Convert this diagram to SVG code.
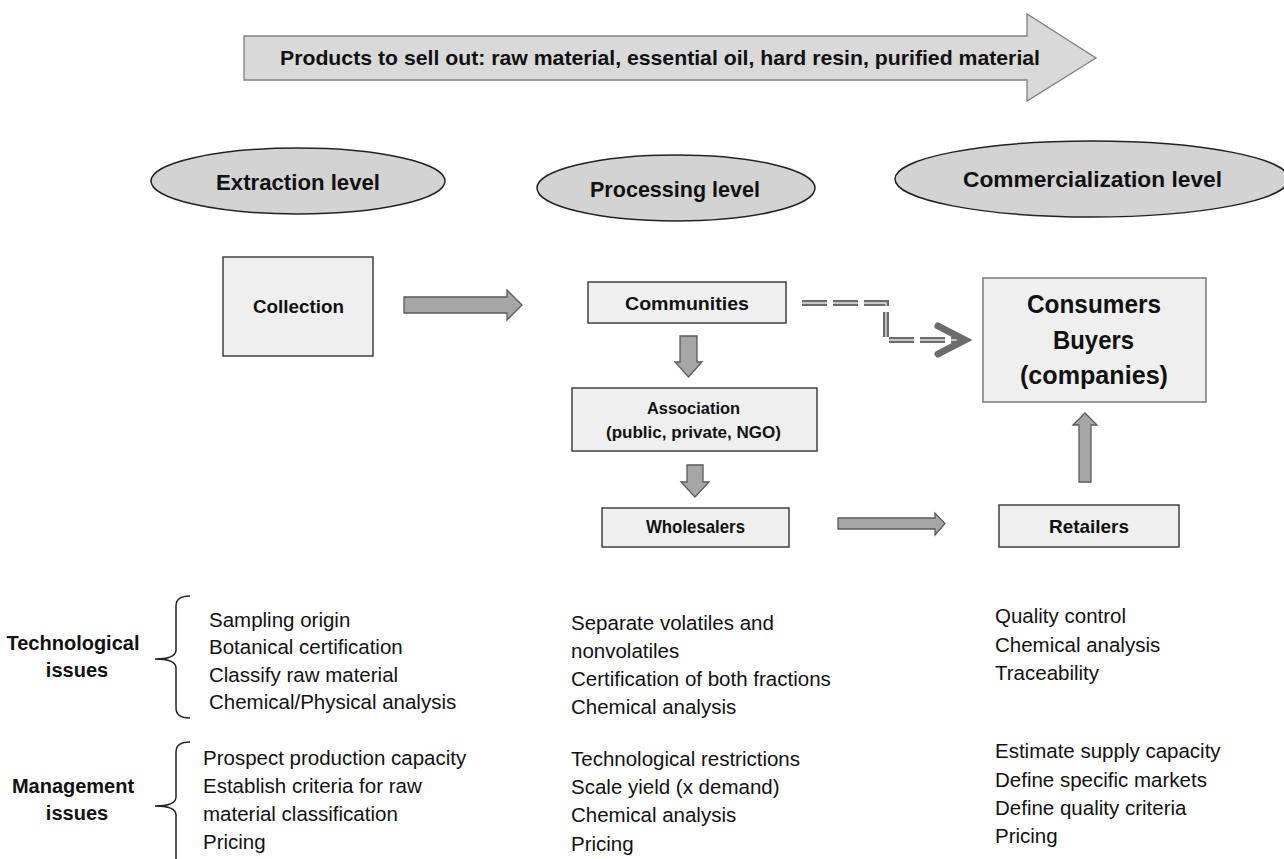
<svg xmlns="http://www.w3.org/2000/svg" width="1284" height="859" viewBox="0 0 1284 859">
<style>
  text { font-family: "Liberation Sans", Arial, sans-serif; fill: #111; }
  .b { font-weight: bold; }
  .c { text-anchor: middle; }
  .item { font-size: 20.5px; }
  .side { font-size: 20px; font-weight: bold; text-anchor: middle; }
  .box { fill: #efefef; stroke: #404040; stroke-width: 1.5; }
  .ell { fill: #d3d3d3; stroke: #222; stroke-width: 1.5; }
  .arr { fill: #a6a6a6; stroke: #5a5a5a; stroke-width: 1.3; stroke-linejoin: miter; }
  .brace { fill: none; stroke: #222; stroke-width: 1.5; }
</style>
<rect width="1284" height="859" fill="#fff"/>

<g id="products-banner">
  <polygon points="244,36 1027,36 1027,14 1096,58 1027,101 1027,80 244,80" fill="#d9d9d9" stroke="#808080" stroke-width="1.3"/>
  <text class="b" x="280" y="65" font-size="20.5" textLength="760" lengthAdjust="spacingAndGlyphs">Products to sell out: raw material, essential oil, hard resin, purified material</text>
</g>

<g id="extraction-level">
  <ellipse class="ell" cx="298" cy="181" rx="147" ry="33"/>
  <text class="b" x="216" y="190" font-size="22" textLength="164" lengthAdjust="spacingAndGlyphs">Extraction level</text>
</g>
<g id="processing-level">
  <ellipse class="ell" cx="676" cy="188" rx="139" ry="33"/>
  <text class="b" x="590" y="197" font-size="22" textLength="170" lengthAdjust="spacingAndGlyphs">Processing level</text>
</g>
<g id="commercialization-level">
  <ellipse class="ell" cx="1092" cy="179" rx="197" ry="38"/>
  <text class="b" x="963" y="187" font-size="22" textLength="259" lengthAdjust="spacingAndGlyphs">Commercialization level</text>
</g>

<g id="collection">
  <rect class="box" x="223" y="257" width="150" height="99"/>
  <text class="b" x="253" y="313" font-size="19" textLength="91" lengthAdjust="spacingAndGlyphs">Collection</text>
</g>
<g id="communities">
  <rect class="box" x="588" y="282" width="198" height="41"/>
  <text class="b" x="625" y="310" font-size="19" textLength="124" lengthAdjust="spacingAndGlyphs">Communities</text>
</g>
<g id="association">
  <rect class="box" x="572" y="388" width="245" height="63"/>
  <text class="b" x="647" y="414" font-size="16.5" textLength="93" lengthAdjust="spacingAndGlyphs">Association</text>
  <text class="b" x="606" y="438" font-size="16.5" textLength="175" lengthAdjust="spacingAndGlyphs">(public, private, NGO)</text>
</g>
<g id="wholesalers">
  <rect class="box" x="602" y="508" width="187" height="39"/>
  <text class="b" x="646" y="533" font-size="17.5" textLength="99" lengthAdjust="spacingAndGlyphs">Wholesalers</text>
</g>
<g id="retailers">
  <rect class="box" x="999" y="505" width="180" height="42"/>
  <text class="b" x="1049" y="533" font-size="18.5" textLength="80" lengthAdjust="spacingAndGlyphs">Retailers</text>
</g>
<g id="consumers">
  <rect x="983" y="278" width="223" height="124" fill="#efefef" stroke="#7a7a7a" stroke-width="1.5"/>
  <text class="b" x="1027" y="313" font-size="25" textLength="134" lengthAdjust="spacingAndGlyphs">Consumers</text>
  <text class="b" x="1053" y="349" font-size="25" textLength="81" lengthAdjust="spacingAndGlyphs">Buyers</text>
  <text class="b" x="1020" y="384" font-size="25" textLength="148" lengthAdjust="spacingAndGlyphs">(companies)</text>
</g>

<g id="connectors">
  <polygon class="arr" points="404,297 507,297 507,290 522,305 507,320 507,313 404,313"/>
  <polygon class="arr" points="680,336 697,336 697,362 702,362 688.5,377 675,362 680,362"/>
  <polygon class="arr" points="687,465 703,465 703,482 709,482 695,497 681,482 687,482"/>
  <polygon class="arr" points="838,518 935,518 935,513 945,523.5 935,535 935,529 838,529"/>
  <polygon class="arr" points="1079,482 1091,482 1091,425 1097,425 1085,413 1073,425 1079,425"/>
  <path d="M802,303 H886 V340 H958" fill="none" stroke="#6b6b6b" stroke-width="6" stroke-dasharray="25 6"/>
  <path d="M802,303 H886 V340 H958" fill="none" stroke="#e6e6e6" stroke-width="1.3" stroke-dasharray="25 6"/>
  <polyline points="938,326 965,340 938,354" fill="none" stroke="#6b6b6b" stroke-width="7" stroke-linecap="round" stroke-linejoin="miter"/>
</g>

<g id="technological-issues">
  <path class="brace" d="M190,596 Q176,596 176,606 V650 Q176,659 155,659 Q176,659 176,668 V708 Q176,718 190,718"/>
  <text class="side" x="73" y="650">Technological</text>
  <text class="side" x="77" y="677">issues</text>
  <text class="item" x="209" y="627">Sampling origin</text>
  <text class="item" x="209" y="654">Botanical certification</text>
  <text class="item" x="209" y="682">Classify raw material</text>
  <text class="item" x="209" y="709">Chemical/Physical analysis</text>
</g>
<g id="management-issues">
  <path class="brace" d="M190,742 Q176,742 176,752 V797 Q176,806 155,806 Q176,806 176,815 V870"/>
  <text class="side" x="73" y="793">Management</text>
  <text class="side" x="77" y="820">issues</text>
  <text class="item" x="203" y="765">Prospect production capacity</text>
  <text class="item" x="203" y="793">Establish criteria for raw</text>
  <text class="item" x="203" y="821">material classification</text>
  <text class="item" x="203" y="849">Pricing</text>
</g>
<g id="processing-issues">
  <text class="item" x="571" y="630">Separate volatiles and</text>
  <text class="item" x="571" y="658">nonvolatiles</text>
  <text class="item" x="571" y="686">Certification of both fractions</text>
  <text class="item" x="571" y="714">Chemical analysis</text>
  <text class="item" x="571" y="766">Technological restrictions</text>
  <text class="item" x="571" y="794">Scale yield (x demand)</text>
  <text class="item" x="571" y="822">Chemical analysis</text>
  <text class="item" x="571" y="851">Pricing</text>
</g>
<g id="commercialization-issues">
  <text class="item" x="995" y="623">Quality control</text>
  <text class="item" x="995" y="652">Chemical analysis</text>
  <text class="item" x="995" y="680">Traceability</text>
  <text class="item" x="995" y="758">Estimate supply capacity</text>
  <text class="item" x="995" y="787">Define specific markets</text>
  <text class="item" x="995" y="815">Define quality criteria</text>
  <text class="item" x="995" y="843">Pricing</text>
</g>
</svg>
